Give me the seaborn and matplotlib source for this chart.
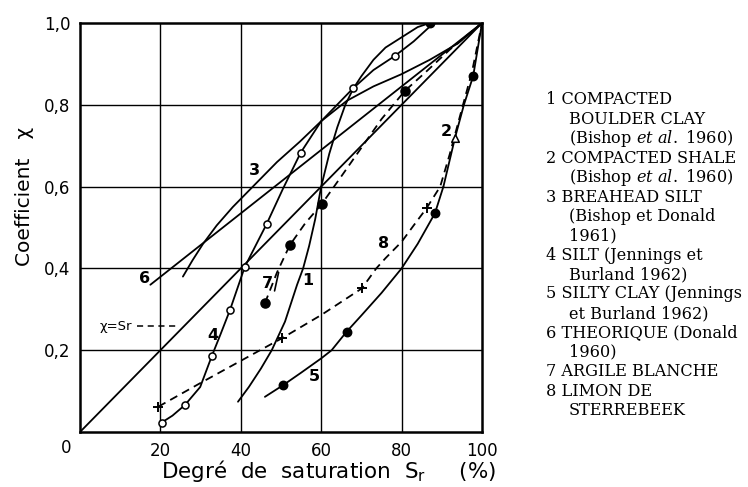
import matplotlib
matplotlib.use("Agg")
import matplotlib.pyplot as plt
import pandas as pd
import seaborn as sns

# 1 - compacted boulder clay (trait plein)
sr_1 = [39.3, 42, 45, 47.7, 51, 54, 55.5, 57, 58.5, 60, 62, 64, 66, 68, 70, 73, 76, 80, 84, 87]
chi_1 = [0.074, 0.11, 0.155, 0.20, 0.27, 0.36, 0.40, 0.455, 0.52, 0.60, 0.68, 0.745, 0.80, 0.84, 0.87, 0.91, 0.94, 0.965, 0.99, 1.0]
sr_1_pts = [87]
chi_1_pts = [1.0]

# 2 - compacted shale
sr_2 = [90.4, 93.3, 95.5, 97.8, 100]
chi_2 = [0.60, 0.72, 0.80, 0.87, 1.0]
sr_2_pts = [93.3]
chi_2_pts = [0.72]
sr_2_dots = [97.8]
chi_2_dots = [0.87]

# 3 - breahead silt
sr_3 = [25.6, 28, 30.6, 34, 38, 43.5, 49, 54.7, 60, 66.4, 73, 80, 87, 94, 100]
chi_3 = [0.38, 0.42, 0.46, 0.505, 0.55, 0.605, 0.66, 0.71, 0.76, 0.81, 0.845, 0.875, 0.91, 0.95, 1.0]

# 4 - silt (Jennings et Burland)
sr_4 = [20.3, 23, 26.1, 29.9, 32.8, 35, 37.3, 41, 46.4, 50.5, 54.9, 60, 67.9, 73, 78.4, 83, 88]
chi_4 = [0.023, 0.04, 0.066, 0.11, 0.186, 0.24, 0.298, 0.404, 0.508, 0.595, 0.683, 0.76, 0.84, 0.885, 0.92, 0.955, 1.0]
sr_4_pts = [20.3, 26.1, 32.8, 37.3, 41, 46.4, 54.9, 67.9, 78.4]
chi_4_pts = [0.023, 0.066, 0.186, 0.298, 0.404, 0.508, 0.683, 0.84, 0.92]

# 5 - silty clay (Jennings et Burland)
sr_5 = [46, 50.6, 55, 60, 62.6, 66.3, 70, 75, 80, 84, 88.3, 90.4]
chi_5 = [0.086, 0.115, 0.145, 0.18, 0.20, 0.245, 0.285, 0.34, 0.40, 0.46, 0.535, 0.60]
sr_5_pts = [50.6, 66.3, 88.3]
chi_5_pts = [0.115, 0.245, 0.535]

# 6 - theorique (Donald)
sr_6 = [17.5, 100]
chi_6 = [0.36, 1.0]

# 7 - argile blanche (tirets)
sr_7 = [46, 49, 52.2, 56, 60.1, 65, 70, 75, 80.8, 86, 92, 100]
chi_7 = [0.315, 0.39, 0.457, 0.51, 0.557, 0.625, 0.695, 0.765, 0.834, 0.88, 0.935, 1.0]
sr_7_pts = [46, 52.2, 60.1, 80.8]
chi_7_pts = [0.315, 0.457, 0.557, 0.834]

# 8 - limon de Sterrebeek (tirets)
sr_8 = [19.5, 30, 44.8, 50.2, 60, 70.1, 73.7, 76, 80, 83, 86.2, 89.6, 92, 95, 97.5, 100]
chi_8 = [0.062, 0.12, 0.20, 0.229, 0.286, 0.351, 0.40, 0.425, 0.465, 0.505, 0.547, 0.60, 0.68, 0.79, 0.88, 1.0]
sr_8_pts = [19.5, 50.2, 70.1, 86.2]
chi_8_pts = [0.062, 0.229, 0.351, 0.547]

# droite X = Sr
sr_diag = [0, 100]
chi_diag = [0, 1.0]

# numeros des courbes
curve_ids = ["1", "2", "3", "4", "5", "6", "7", "8"]
id_sr = [56.6, 91.0, 43.5, 33.1, 58.2, 16.0, 46.6, 75.6]
id_chi = [0.37, 0.734, 0.64, 0.237, 0.135, 0.376, 0.364, 0.46]

x_ticks = [20, 40, 60, 80, 100]
y_ticks = [0.2, 0.4, 0.6, 0.8, 1.0]
y_tick_labels = ["0,2", "0,4", "0,6", "0,8", "1,0"]

legend_lines = [
    ("1 COMPACTED", 0),
    ("BOULDER CLAY", 1),
    (r"(Bishop $\mathit{et\ al.}$ 1960)", 1),
    ("2 COMPACTED SHALE", 0),
    (r"(Bishop $\mathit{et\ al.}$ 1960)", 1),
    ("3 BREAHEAD SILT", 0),
    ("(Bishop et Donald", 1),
    ("1961)", 1),
    ("4 SILT (Jennings et", 0),
    ("Burland 1962)", 1),
    ("5 SILTY CLAY (Jennings", 0),
    ("et Burland 1962)", 1),
    ("6 THEORIQUE (Donald", 0),
    ("1960)", 1),
    ("7 ARGILE BLANCHE", 0),
    ("8 LIMON DE", 0),
    ("STERREBEEK", 1),
]


def draw_line(ax, sr, chi, dashed=False):
    df = pd.DataFrame({"Sr": sr, "chi": chi})
    sns.lineplot(data=df, x="Sr", y="chi", ax=ax, color="black", lw=1.3,
                 sort=False, estimator=None,
                 linestyle="--" if dashed else "-")
    if dashed:
        ax.lines[-1].set_dashes((4.5, 3))


def draw_points(ax, sr, chi, marker, filled, size):
    sns.scatterplot(x=sr, y=chi, ax=ax, marker=marker, s=size, zorder=5,
                    color="black" if filled else "white",
                    edgecolor="black", linewidth=1.1)


if __name__ == "__main__":
    sns.set_style("white")
    plt.rcParams["font.family"] = ["DejaVu Sans"]
    plt.rcParams["text.color"] = "black"
    plt.rcParams["xtick.color"] = "black"
    plt.rcParams["ytick.color"] = "black"
    plt.rcParams["axes.labelcolor"] = "black"
    plt.rcParams["mathtext.fontset"] = "custom"
    plt.rcParams["mathtext.rm"] = "DejaVu Serif"
    plt.rcParams["mathtext.it"] = "DejaVu Serif:italic"
    plt.rcParams["mathtext.sf"] = "DejaVu Sans"

    fig = plt.figure(figsize=(7.48, 4.87), dpi=100)
    ax = fig.add_axes([80 / 748, 1 - 432 / 487, 402 / 748, 409 / 487])

    # grille
    for x in x_ticks[:-1]:
        ax.axvline(x, color="black", lw=1.0, zorder=0)
    for y in y_ticks[:-1]:
        ax.axhline(y, color="black", lw=1.0, zorder=0)

    draw_line(ax, sr_diag, chi_diag)
    draw_line(ax, sr_6, chi_6)
    draw_line(ax, sr_3, chi_3)
    draw_line(ax, sr_1, chi_1)
    draw_line(ax, sr_4, chi_4)
    draw_line(ax, sr_5, chi_5)
    draw_line(ax, sr_2, chi_2)
    draw_line(ax, sr_7, chi_7, dashed=True)
    draw_line(ax, sr_8, chi_8, dashed=True)

    draw_points(ax, sr_4_pts, chi_4_pts, "o", False, 26)
    draw_points(ax, sr_1_pts, chi_1_pts, "o", True, 36)
    draw_points(ax, sr_5_pts, chi_5_pts, "o", True, 36)
    draw_points(ax, sr_7_pts, chi_7_pts, "o", True, 42)
    draw_points(ax, sr_2_dots, chi_2_dots, "o", True, 36)
    draw_points(ax, sr_2_pts, chi_2_pts, "^", False, 30)
    sns.scatterplot(x=sr_8_pts, y=chi_8_pts, ax=ax, marker="+", s=50,
                    color="black", linewidth=1.4, zorder=5)

    for txt, x, y in zip(curve_ids, id_sr, id_chi):
        ax.text(x, y, txt, fontsize=11.5, fontweight="bold", ha="center", va="center")
    ax.plot([48.4, 49.4], [0.345, 0.39], color="black", lw=1.2)

    ax.text(9.0, 0.258, "χ=Sr", fontsize=9.5, ha="center", va="center")
    ax.plot([14.2, 24.2], [0.26, 0.26], color="black", lw=1.1, dashes=(4, 3))

    ax.set_xlim(0, 100)
    ax.set_ylim(0, 1.0)
    ax.set_xticks(x_ticks)
    ax.set_xticklabels([str(v) for v in x_ticks])
    ax.set_yticks(y_ticks)
    ax.set_yticklabels(y_tick_labels)
    ax.tick_params(length=0, labelsize=12, pad=7, colors="black")
    ax.set_xlabel("")
    ax.set_ylabel("")
    for sp in ax.spines.values():
        sp.set_visible(True)
        sp.set_color("black")
        sp.set_linewidth(1.8)
    ax.text(-3.4, -0.04, "0", fontsize=12, ha="center", va="center", clip_on=False)

    fig.text(329 / 748, 1 - 471 / 487, r"Degré  de  saturation  $\mathsf{S_r}$     (%)",
             fontsize=15.5, ha="center", va="center")
    fig.text(25 / 748, 1 - 196 / 487, "Coefficient   χ", fontsize=14.5,
             rotation=90, ha="center", va="center")

    for i, (txt, indent) in enumerate(legend_lines):
        x = 569 if indent else 546
        fig.text(x / 748, 1 - (100 + i * 19.4) / 487, txt, fontsize=11.6,
                 family="DejaVu Serif", ha="left", va="center")

    fig.savefig("out.png", dpi=100)
